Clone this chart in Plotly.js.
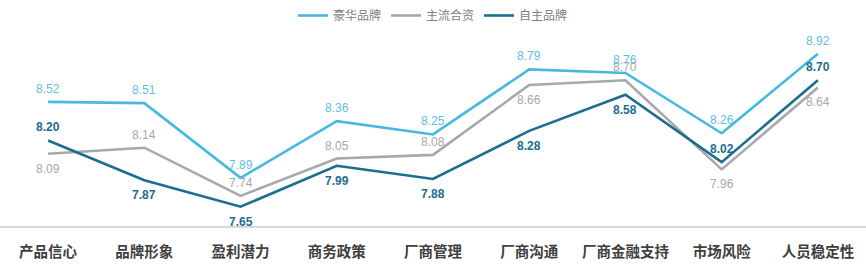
<!DOCTYPE html>
<html>
<head>
<meta charset="utf-8">
<script src="https://cdn.plot.ly/plotly-3.0.1.min.js"></script>
<style>html,body{margin:0;padding:0;background:#fff;}#chart{width:866px;height:265px;}</style>
</head>
<body>
<div id="chart"></div>
<script>
const categories = ['产品信心','品牌形象','盈利潜力','商务政策','厂商管理','厂商沟通','厂商金融支持','市场风险','人员稳定性'];
const seriesNames = ['豪华品牌','主流合资','自主品牌'];
const luxury = [8.52, 8.51, 7.89, 8.36, 8.25, 8.79, 8.76, 8.26, 8.92];
const mainstream = [8.09, 8.14, 7.74, 8.05, 8.08, 8.66, 8.70, 7.96, 8.64];
const domestic = [8.20, 7.87, 7.65, 7.99, 7.88, 8.28, 8.58, 8.02, 8.70];
// label placement: 't' above the line, 'b' below
const luxuryPos = ['t','t','t','t','t','t','t','t','t'];
const mainstreamPos = ['b','t','t','t','t','b','t','b','b'];
const domesticPos = ['t','b','b','b','b','b','b','t','t'];

const cjk = '"Noto Sans CJK SC", "Noto Sans", sans-serif';
const num = '"Liberation Sans", Arial, sans-serif';
const colors = ['#49b8e0', '#a5a8ad', '#1b6e8e'];
const textColors = ['#62bfe4', '#a5a8ad', '#1b6e8e'];

function line(name, y, color) {
  return {type: 'scatter', mode: 'lines', name: name, x: categories, y: y,
          line: {color: color, width: 2.6}, hoverinfo: 'skip'};
}
const data = [
  line(seriesNames[0], luxury, colors[0]),
  line(seriesNames[1], mainstream, colors[1]),
  line(seriesNames[2], domestic, colors[2])
];
const annotations = [];
[[luxury, luxuryPos, 0, false], [mainstream, mainstreamPos, 1, false], [domestic, domesticPos, 2, true]].forEach(([vals, pos, ci, bold]) => {
  vals.forEach((v, i) => {
    annotations.push({
      x: categories[i], y: v, xref: 'x', yref: 'y',
      text: bold ? '<b>' + v.toFixed(2) + '</b>' : v.toFixed(2),
      showarrow: false, yanchor: 'middle', xanchor: 'center',
      yshift: pos[i] === 't' ? 13 : -15,
      font: {family: num, size: 12, color: textColors[ci]}
    });
  });
});
const layout = {
  width: 866, height: 265,
  margin: {l: 0, r: 0, t: 30, b: 39},
  paper_bgcolor: '#fff', plot_bgcolor: '#fff',
  showlegend: true,
  legend: {orientation: 'h', x: 0.5, xanchor: 'center', y: 1.0, yanchor: 'bottom',
           font: {family: cjk, size: 12, color: '#808080'}, itemwidth: 30},
  annotations: annotations,
  xaxis: {
    type: 'category', range: [-0.5, 8.5], showgrid: false, zeroline: false,
    showline: true, linecolor: '#d9d9d9', linewidth: 1.5,
    ticks: '', ticklabelstandoff: 12,
    tickfont: {family: cjk, size: 14.5, color: '#404040', weight: 'bold'}
  },
  yaxis: {range: [7.49, 9.117], visible: false, showgrid: false, zeroline: false},
  font: {family: cjk}
};
Plotly.newPlot('chart', data, layout, {displayModeBar: false, staticPlot: true});
</script>
</body>
</html>
